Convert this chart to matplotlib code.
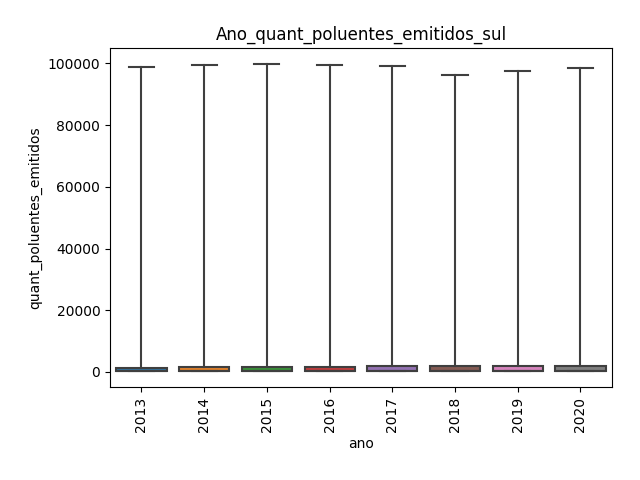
import matplotlib
matplotlib.use("Agg")
import matplotlib.pyplot as plt

anos = ["2013", "2014", "2015", "2016", "2017", "2018", "2019", "2020"]
minimos = [150, 150, 150, 150, 150, 150, 150, 150]
q1 = [150, 150, 150, 150, 150, 150, 150, 150]
medianas = [150, 150, 150, 150, 150, 150, 150, 150]
q3 = [1400, 1750, 1750, 1650, 2050, 2050, 1950, 1950]
maximos = [98900, 99450, 99870, 99450, 99100, 96200, 97500, 98500]

cores = ["#3274a1", "#e1812c", "#3a923a", "#c03d3e",
         "#9372b2", "#845b53", "#d684bd", "#7f7f7f"]

stats = []
for i, ano in enumerate(anos):
    stats.append(dict(label=ano, whislo=minimos[i], q1=q1[i], med=medianas[i],
                      q3=q3[i], whishi=maximos[i], fliers=[]))

fig, ax = plt.subplots(figsize=(6.4, 4.8), dpi=100)
linha = dict(color="#3f3f3f", linewidth=1.5)
bp = ax.bxp(stats, positions=range(len(anos)), widths=0.8, capwidths=0.4,
            patch_artist=True, showfliers=False,
            boxprops=dict(edgecolor="#3f3f3f", linewidth=1.5),
            whiskerprops=linha, capprops=linha, medianprops=linha)
for patch, cor in zip(bp["boxes"], cores):
    patch.set_facecolor(cor)

ax.set_xlim(-0.5, len(anos) - 0.5)
ax.set_title("Ano_quant_poluentes_emitidos_sul")
ax.set_xlabel("ano")
ax.set_ylabel("quant_poluentes_emitidos")
plt.xticks(rotation=90)
plt.subplots_adjust(left=0.172, right=0.956, top=0.899, bottom=0.194)
plt.savefig("out.png")
plt.close()
